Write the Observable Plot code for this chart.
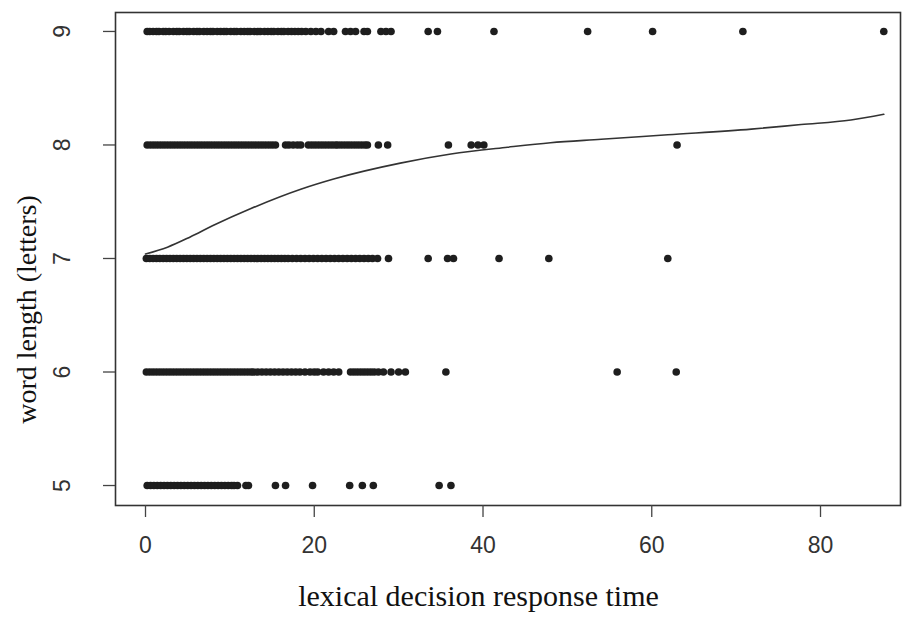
<!DOCTYPE html>
<html>
<head>
<meta charset="utf-8">
<script src="https://cdn.jsdelivr.net/npm/d3@7"></script>
<script src="https://cdn.jsdelivr.net/npm/@observablehq/plot@0.6"></script>
<style>
  html, body { margin: 0; padding: 0; background: #fff; }
  #chart svg { display: block; }
</style>
</head>
<body>
<div id="chart"></div>
<script>
// word-length levels and response times
const lengths = [5, 6, 7, 8, 9];
const times5 = [0.2,0.6,1.0,1.4,1.8,2.2,2.6,3.0,3.4,3.8,4.2,4.6,5.0,5.4,5.8,6.2,6.6,7.0,7.4,7.8,8.2,8.6,9.0,9.4,9.8,10.2,10.5,10.9,11.9,12.2,15.4,16.6,19.8,24.2,25.7,27.0,34.8,36.2];
const times6 = [0.1,0.5,0.9,1.3,1.7,2.1,2.5,2.9,3.3,3.7,4.1,4.5,4.9,5.3,5.7,6.1,6.5,6.9,7.3,7.7,8.1,8.5,8.9,9.3,9.7,10.1,10.5,10.9,11.3,11.7,12.1,12.5,12.8,13.3,13.8,14.3,14.8,15.3,15.8,16.3,16.8,17.3,17.8,18.3,18.9,19.5,20.0,20.4,21.1,21.7,22.3,22.9,24.3,24.7,25.1,25.5,25.9,26.3,26.7,27.1,27.6,28.2,29.1,30.0,30.8,35.6,55.9,62.9];
const times7 = [0.1,0.5,0.9,1.3,1.7,2.1,2.5,2.9,3.3,3.7,4.1,4.5,4.9,5.3,5.7,6.1,6.5,6.9,7.3,7.7,8.1,8.5,8.9,9.3,9.7,10.1,10.5,10.9,11.3,11.7,12.1,12.5,12.9,13.3,13.7,14.1,14.5,14.9,15.3,15.7,16.1,16.5,16.9,17.4,17.9,18.4,18.9,19.4,19.9,20.4,20.9,21.4,21.9,22.4,22.9,23.4,23.9,24.4,24.9,25.4,25.9,26.4,26.9,27.5,28.8,33.5,35.8,36.5,41.9,47.8,61.9];
const times8 = [0.2,0.6,1.0,1.4,1.8,2.2,2.6,3.0,3.4,3.8,4.2,4.6,5.0,5.4,5.8,6.2,6.6,7.0,7.4,7.8,8.2,8.6,9.0,9.4,9.8,10.2,10.6,11.0,11.4,11.8,12.2,12.6,13.0,13.4,13.8,14.2,14.6,15.0,15.4,16.6,17.0,17.5,18.0,18.4,19.3,19.7,20.1,20.5,20.9,21.3,21.7,22.1,22.5,22.8,23.2,23.6,24.0,24.4,24.8,25.2,25.6,26.0,26.3,27.6,28.7,35.9,38.6,39.4,40.1,63.0];
const times9 = [0.2,0.5,0.9,1.3,1.6,2.1,2.4,2.8,3.3,3.7,4.0,4.5,4.9,5.2,5.7,6.1,6.4,6.9,7.3,7.7,8.0,8.5,8.9,9.3,9.6,10.1,10.5,10.8,11.3,11.7,12.1,12.4,12.9,13.3,13.6,14.1,14.5,14.9,15.2,15.7,16.1,16.4,16.9,17.3,17.7,18.1,18.5,19.0,19.6,20.2,20.8,21.7,22.3,23.7,24.3,24.9,25.9,26.3,27.9,28.5,29.1,33.5,34.6,41.3,52.4,60.1,70.8,87.5];

// smoothed (lowess-like) curve
const smoothX = [0, 2.6, 5.3, 8.0, 12.5, 18.4, 22.3, 30.2, 36.2, 42.9, 48.0, 54.0, 61.9, 71.8, 77.7, 83.6, 87.5];
const smoothY = [7.04, 7.10, 7.19, 7.29, 7.44, 7.61, 7.70, 7.84, 7.92, 7.98, 8.02, 8.05, 8.09, 8.14, 8.18, 8.22, 8.27];

const xTicks = [0, 20, 40, 60, 80];
const yTicks = [5, 6, 7, 8, 9];
const xTitle = "lexical decision response time";
const yTitle = "word length (letters)";

const series = [times5, times6, times7, times8, times9];
const points = lengths.flatMap((len, i) => series[i].map(t => ({time: t, len})));
const curve = smoothX.map((x, i) => ({x, y: smoothY[i]}));

const serif = "'Liberation Serif', 'Times New Roman', serif";

const chart = Plot.plot({
  width: 904,
  height: 627,
  marginLeft: 115,
  marginRight: 4,
  marginTop: 12,
  marginBottom: 122,
  style: {fontFamily: "'Liberation Sans', Arial, sans-serif", background: "#fff"},
  x: {domain: [-3.556, 89.48]},
  y: {domain: [4.824, 9.167]},
  marks: [
    Plot.dot(points, {x: "time", y: "len", r: 3.8, fill: "#1e1e1e", stroke: "none"}),
    Plot.line(curve, {x: "x", y: "y", stroke: "#333", strokeWidth: 1.6, curve: "monotone-x"}),
    Plot.frame({stroke: "#333", strokeWidth: 1.6}),
    Plot.axisX({ticks: xTicks, tickSize: 12, tickPadding: 19, fontSize: 23, label: null, stroke: "#444", fill: "#333", strokeWidth: 1.3}),
    Plot.axisY({ticks: yTicks, tickSize: 12, tickFormat: () => "", label: null, stroke: "#444", strokeWidth: 1.3}),
    Plot.text(yTicks, {y: d => d, text: d => String(d), frameAnchor: "left", textAnchor: "middle", dx: -53, rotate: -90, fontSize: 23, fill: "#333"}),
    Plot.text([xTitle], {text: d => d, frameAnchor: "bottom", textAnchor: "middle", dx: -29.5, dy: 100, fontSize: 30, fill: "#111", fontFamily: serif}),
    Plot.text([yTitle], {text: d => d, frameAnchor: "left", textAnchor: "middle", dx: -88, dy: 50.5, rotate: -90, fontSize: 28, fill: "#111", fontFamily: serif})
  ]
});
document.getElementById("chart").appendChild(chart);
</script>
</body>
</html>
